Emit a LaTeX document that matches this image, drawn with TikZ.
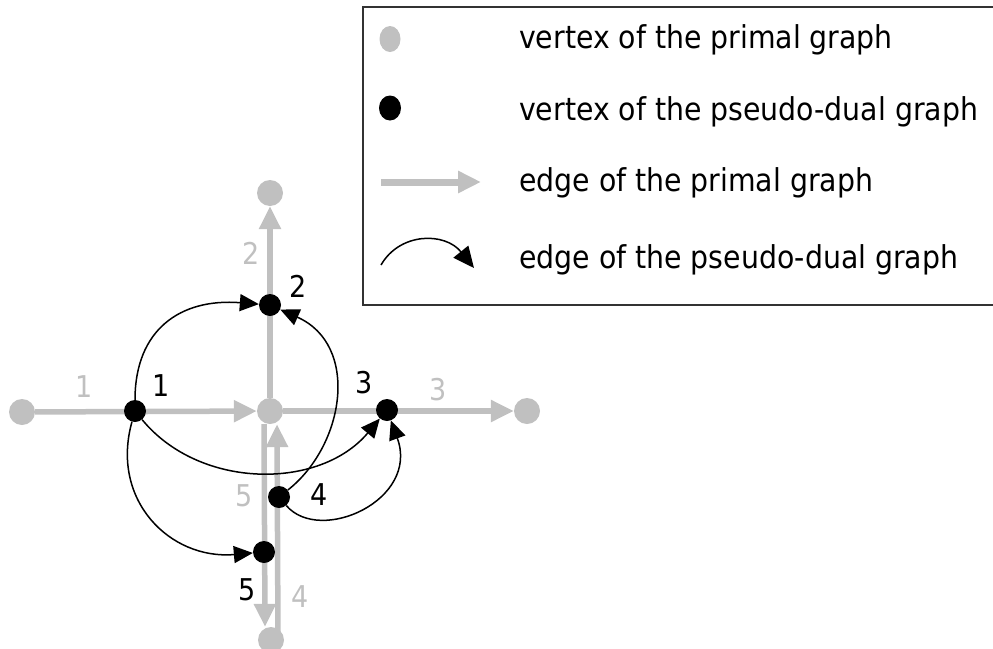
\documentclass[tikz,border=0pt]{standalone}
\usepackage{fontspec}
\setmainfont{DejaVu Sans Condensed}
\usepackage{tikz}
\usetikzlibrary{arrows.meta,shapes.geometric}
\definecolor{primalgray}{RGB}{192,192,192}
\definecolor{framegray}{RGB}{50,50,50}

\begin{document}
\begin{tikzpicture}[
        x=1pt, y=-1pt,
        primal/.style={circle, fill=primalgray, inner sep=0pt, minimum size=26pt},
        dual/.style={circle, fill=black, inner sep=0pt, minimum size=22pt},
        pedge/.style={primalgray, line width=5.5pt, -{Triangle[length=23pt,width=21pt]}},
        dedge/.style={black, line width=1.5pt, -{Triangle[length=19pt,width=17pt]}},
        plabel/.style={text=primalgray, font=\fontsize{30}{36}\selectfont},
        dlabel/.style={text=black, font=\fontsize{30}{36}\selectfont},
        legtext/.style={anchor=west, inner sep=0pt, font=\fontsize{31.5}{38}\selectfont}
    ]
    \useasboundingbox (0,0) rectangle (993,648);

    % primal graph
    \node[primal] (p1) at (22,412) {};
    \node[primal] (pc) at (270,411) {};
    \node[primal] (p3) at (527,411) {};
    \node[primal] (p2) at (270,193) {};
    \node[primal] (pb) at (271,640) {};
    \draw[pedge] (p1) -- (pc);
    \draw[pedge] (pc) -- (p2);
    \draw[pedge] (pc) -- (p3);
    \draw[pedge] ([xshift=-6pt]pc.south) -- ([xshift=-6pt]pb.north);
    \draw[pedge] ([xshift=7pt]pb.center) -- ([xshift=7pt]pc.south);
    \node[plabel] (l1) at (84,387) {1};
    \node[plabel] (l2) at (251,253) {2};
    \node[plabel] (l3) at (438,390) {3};
    \node[plabel] (l4) at (300,597) {4};
    \node[plabel] (l5) at (244,496) {5};

    % pseudo-dual graph
    \node[dual] (d1) at (135,411) {};
    \node[dual] (d2) at (270,305) {};
    \node[dual] (d3) at (387,410) {};
    \node[dual] (d4) at (279,497) {};
    \node[dual] (d5) at (264,552) {};
    \node[dlabel] (n1) at (161,386) {1};
    \node[dlabel] (n2) at (298,286) {2};
    \node[dlabel] (n3) at (364,383) {3};
    \node[dlabel] (n4) at (319,495) {4};
    \node[dlabel] (n5) at (247,590) {5};
    \draw[dedge] (d1) .. controls (135,330) and (180,298) .. (d2);
    \draw[dedge] (d4) .. controls (345,445) and (360,345) .. (d2);
    \draw[dedge] (d1) .. controls (200,490) and (320,490) .. (d3);
    \draw[dedge] (d1) .. controls (110,500) and (170,560) .. (d5);
    \draw[dedge] (d4) .. controls (320,545) and (420,500) .. (d3);

    % legend
    \draw[framegray, line width=1.8pt] (363,7) rectangle (1010,305);
    \node[primal, ellipse, minimum width=21pt, minimum height=26pt] (lg1) at (390,39) {};
    \node[dual, ellipse, minimum width=22pt, minimum height=25pt] (lg2) at (390,108) {};
    \coordinate (la1) at (381,182);
    \coordinate (la2) at (481,182);
    \draw[pedge, line width=7pt] (la1) -- (la2);
    \coordinate (lc1) at (381,265);
    \coordinate (lc2) at (474,268);
    \draw[dedge, -{Triangle[length=21pt,width=19pt]}] (lc1) .. controls (400,232) and (445,232) .. (lc2);
    \node[legtext] (t1) at (519,40) {vertex of the primal graph};
    \node[legtext] (t2) at (519,112) {vertex of the pseudo-dual graph};
    \node[legtext] (t3) at (519,183) {edge of the primal graph};
    \node[legtext] (t4) at (519,260) {edge of the pseudo-dual graph};
\end{tikzpicture}
\end{document}
